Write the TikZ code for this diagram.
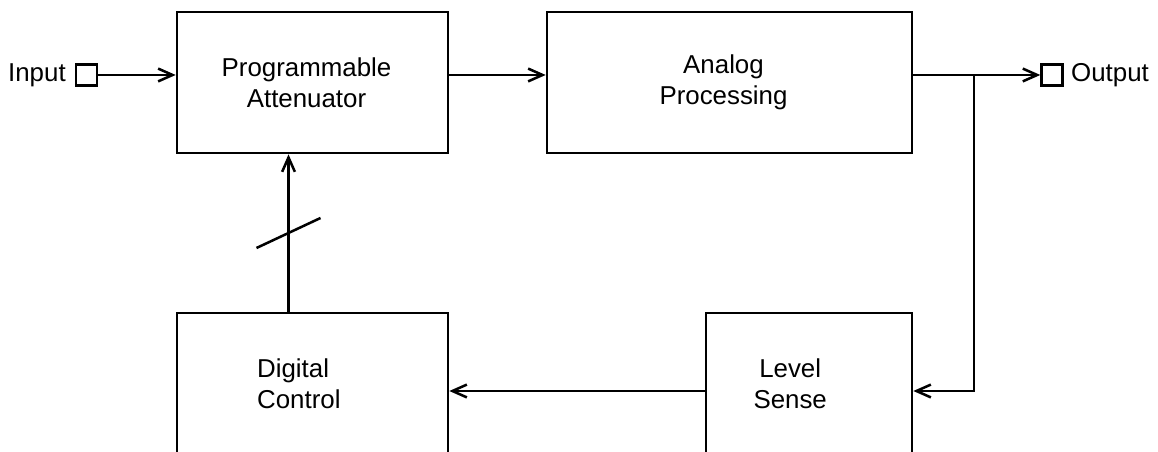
\documentclass[tikz,border=0pt]{standalone}
\usepackage{fontspec}
\setmainfont{Liberation Sans}
\usepackage{tikz}
\usetikzlibrary{arrows.meta}
\tikzset{
  blk/.style={draw,line width=1.9pt,inner sep=0pt,minimum height=3.525cm},
  lbl/.style={inner sep=0pt,align=center,font=\fontsize{18.4}{22}\selectfont},
  sig/.style={line width=1.8pt,-{Straight Barb[length=3.6mm,width=3.2mm]}},
  wire/.style={line width=1.8pt},
  port/.style={draw,line width=1.6pt,minimum size=5.3mm,inner sep=0pt}
}

\begin{document}
\begin{tikzpicture}
\useasboundingbox (0,0) rectangle (28.95,11.3);
\clip (0,0) rectangle (28.95,11.3);
% blocks
\node[blk,minimum width=6.775cm] (att) at (7.8125,9.2375) {};
\node[blk,minimum width=9.125cm] (ap) at (18.2375,9.2375) {};
\node[blk,minimum width=6.775cm] (dc) at (7.8125,1.7125) {};
\node[blk,minimum width=5.15cm] (ls) at (20.225,1.7125) {};
\node[lbl] (att-t) at ([xshift=-1.5mm]att.center) {Programmable\\Attenuator};
\node[lbl] (ap-t) at ([xshift=-1.5mm]ap.center) {Analog\\Processing};
\node[lbl,align=left,anchor=west] (dc-t) at ([xshift=2.03cm]dc.west) {Digital\\Control};
\node[lbl] (ls-t) at ([xshift=-4.7mm]ls.center) {Level\\Sense};
% ports
\node[port] (in) at (2.1625,9.425) {};
\node[lbl,anchor=east] (in-t) at ([xshift=-2.2mm]in.west) {Input};
\node[port] (out) at (26.3,9.425) {};
\node[lbl,anchor=west] (out-t) at ([xshift=1.8mm]out.east) {Output};
% signal path
\draw[sig] (in) -- (in -| att.west);
\draw[sig] (att.east |- in) -- (ap.west |- in);
\draw[sig] (ap.east |- in) -- (out);
\coordinate (br) at (24.35,9.425);
\coordinate (lo) at (24.35,1.525);
\draw[sig] (br) -- (lo) -- (lo -| ls.east);
\draw[sig] (lo -| ls.west) -- (lo -| dc.east);
\draw[sig] ([xshift=-6mm]dc.north) -- ([xshift=-6mm]att.south);
\coordinate (bus) at (7.2125,5.475);
\draw[wire] ([shift={(-8mm,-3.75mm)}]bus) -- ([shift={(8mm,3.75mm)}]bus);
\end{tikzpicture}
\end{document}
